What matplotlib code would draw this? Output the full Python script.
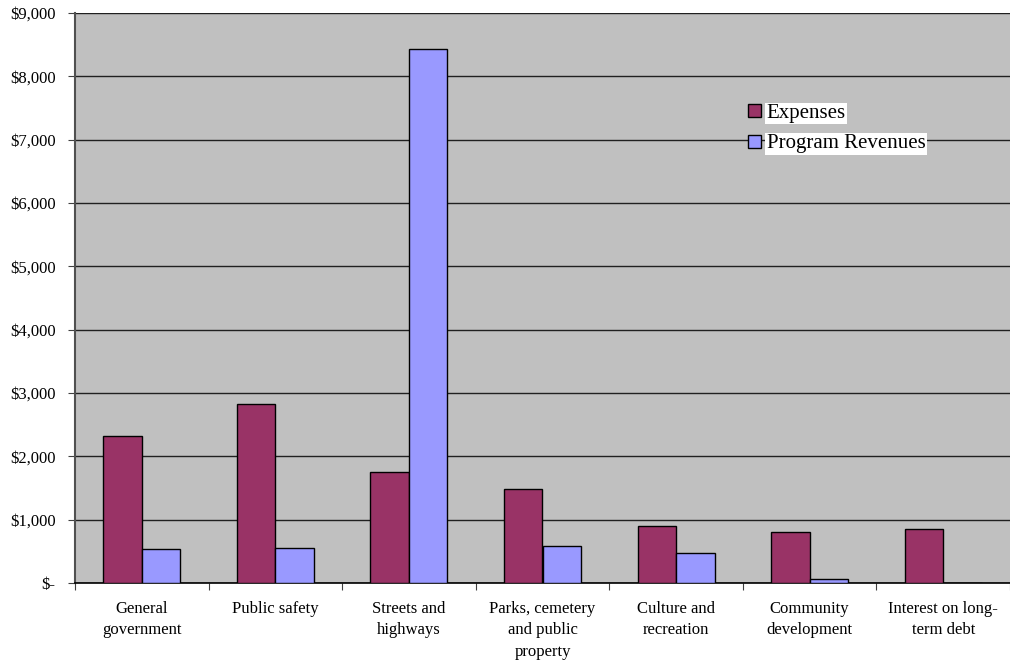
import matplotlib
matplotlib.use("Agg")
import matplotlib.pyplot as plt
import numpy as np
from matplotlib.ticker import FuncFormatter, MultipleLocator

categories = [
    "General\ngovernment",
    "Public safety",
    "Streets and\nhighways",
    "Parks, cemetery\nand public\nproperty",
    "Culture and\nrecreation",
    "Community\ndevelopment",
    "Interest on long-\nterm debt",
]
expenses = [2315, 2827, 1753, 1480, 900, 812, 859]
revenues = [537, 557, 8425, 590, 469, 58, 0]

plt.rcParams["font.family"] = ["Liberation Serif", "DejaVu Serif"]

fig = plt.figure(figsize=(10.1, 6.65), dpi=100)
ax = fig.add_axes([75 / 1010, 1 - 583 / 665, 1 - 75 / 1010, (583 - 13) / 665])
ax.set_facecolor("#C0C0C0")

x = np.arange(len(categories))
w = 0.288
ax.bar(x - w / 2, expenses, w, color="#993366", edgecolor="black", linewidth=1,
       label="Expenses", zorder=3)
ax.bar(x + w / 2, revenues, w, color="#9999FF", edgecolor="black", linewidth=1,
       label="Program Revenues", zorder=3)

ax.set_xlim(-0.5, len(categories) - 0.5)
ax.set_ylim(0, 9000)
ax.yaxis.set_major_locator(MultipleLocator(1000))
ax.yaxis.set_major_formatter(FuncFormatter(lambda v, p: "$-" if v == 0 else f"${v:,.0f}"))
ax.grid(axis="y", color="#202020", linewidth=1, zorder=1)
ax.set_axisbelow(True)

# tick marks between categories, labels centred on categories
ax.set_xticks(np.arange(-0.5, len(categories), 1.0))
ax.set_xticklabels([])
ax.set_xticks(x, minor=True)
ax.set_xticklabels(categories, minor=True, fontsize=12, linespacing=1.45)
ax.tick_params(axis="x", which="major", length=5, direction="out", color="#404040")
ax.tick_params(axis="x", which="minor", length=0, pad=13)
ax.tick_params(axis="y", length=5, direction="out", pad=9, labelsize=12, color="#404040")

for s in ("top", "right"):
    ax.spines[s].set_visible(False)
ax.spines["left"].set_color("#505050")
ax.spines["left"].set_linewidth(1.5)
ax.spines["bottom"].set_color("black")
ax.spines["bottom"].set_linewidth(1.2)

leg = ax.legend(loc="upper left", bbox_to_anchor=(748 / 1010, 1 - 104 / 665),
                bbox_transform=fig.transFigure, frameon=False, fontsize=15,
                handlelength=0.6, handleheight=0.6, handletextpad=0.3,
                labelspacing=0.55, borderpad=0, borderaxespad=0)
for t in leg.get_texts():
    t.set_bbox(dict(facecolor="white", edgecolor="none", pad=1))

fig.savefig("out.png", dpi=100)
